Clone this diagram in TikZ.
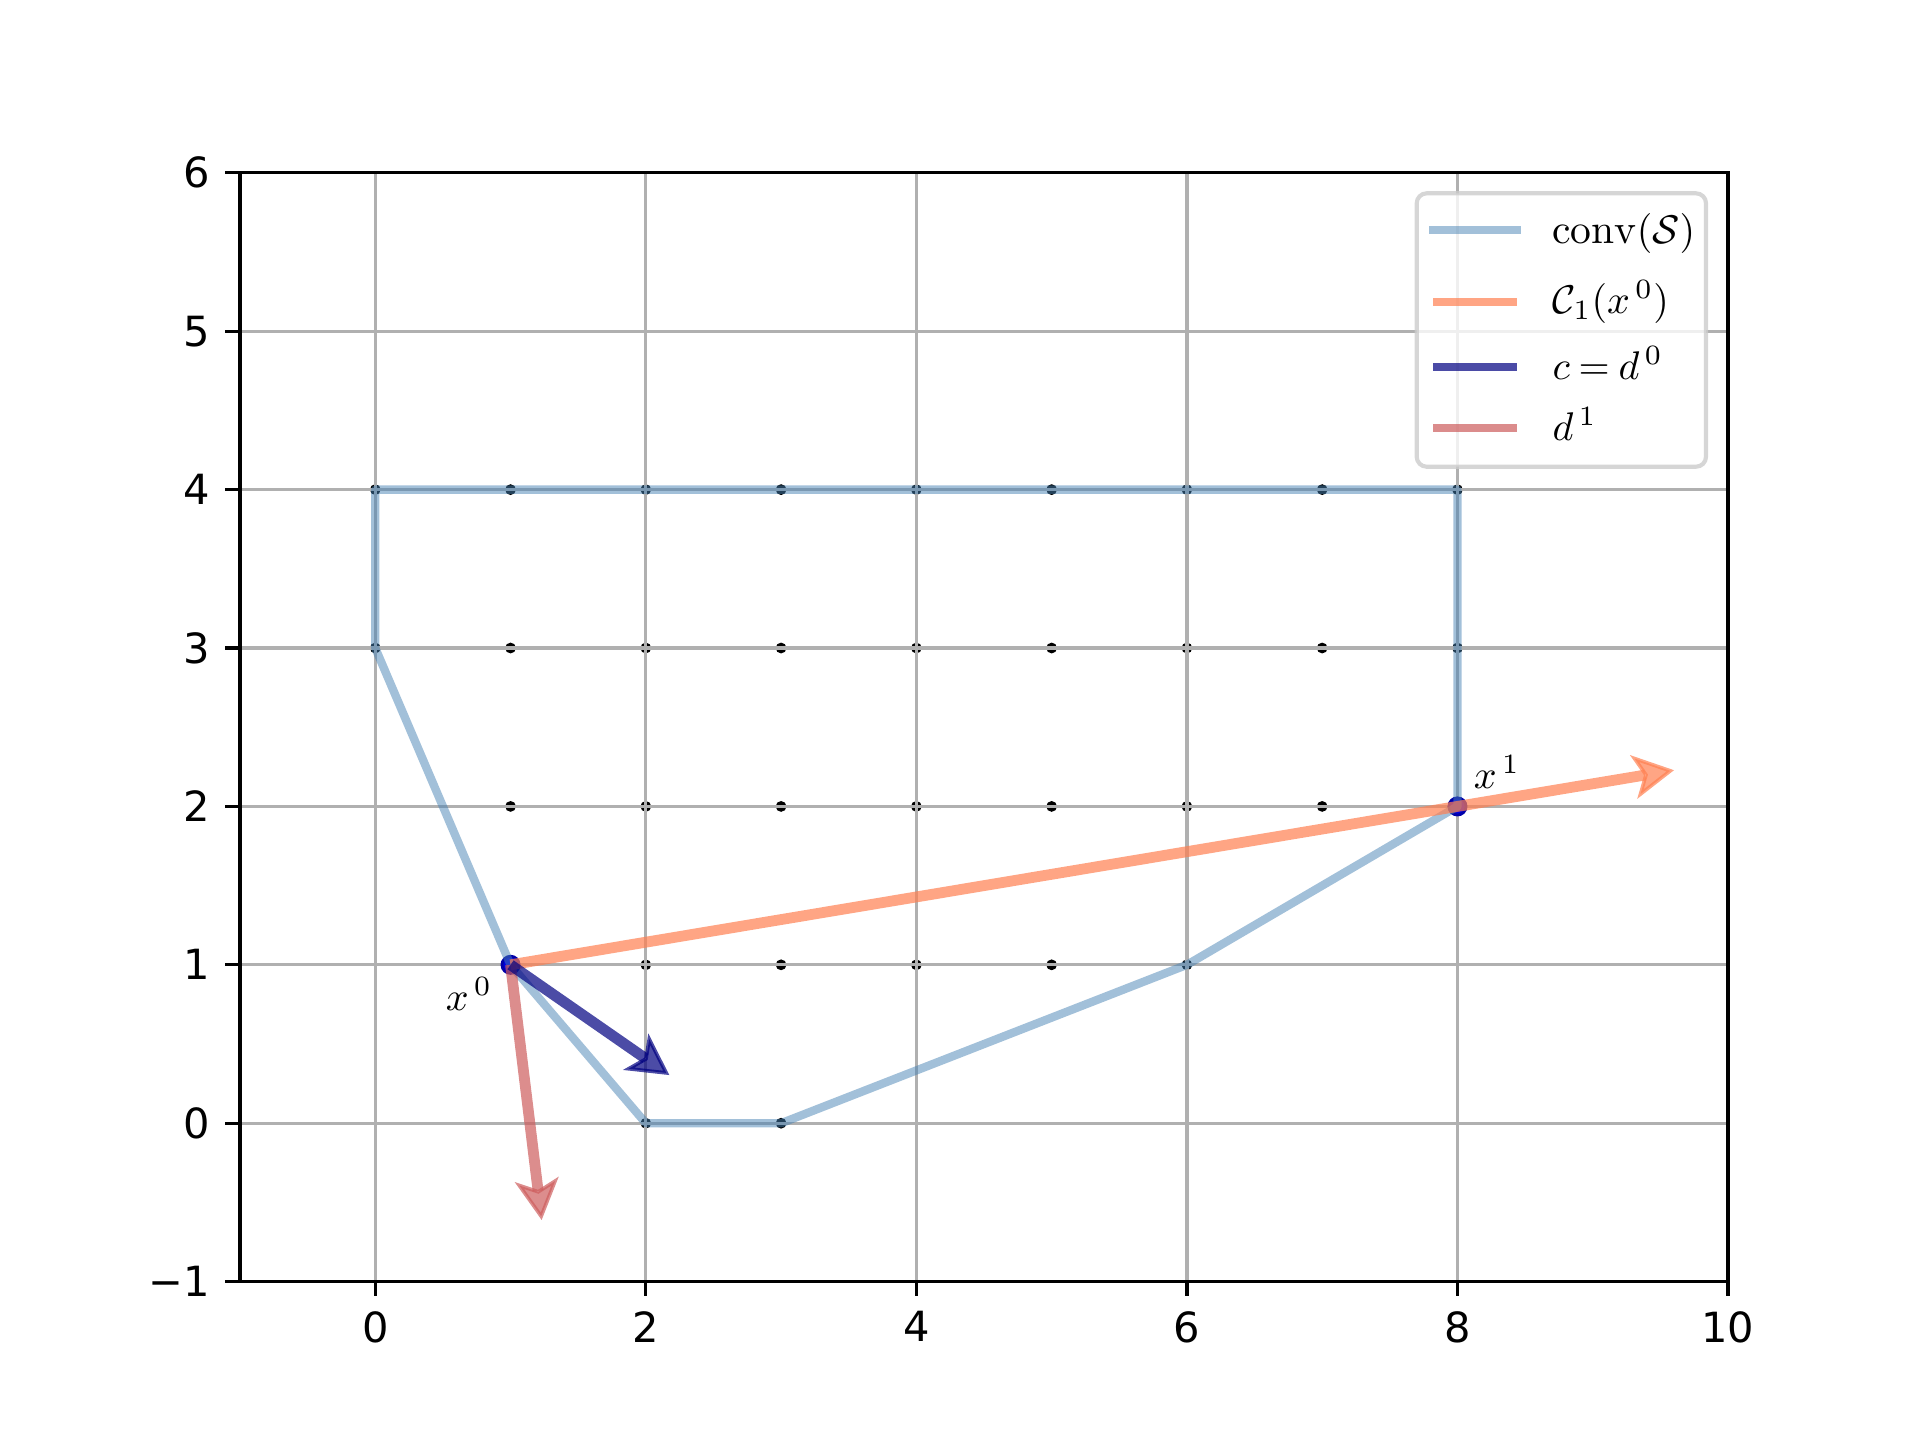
\documentclass[tikz,border=0pt]{standalone}
\usepackage{fontspec}
\newfontfamily\dejavu{DejaVu Sans}
\usetikzlibrary{arrows.meta}
\definecolor{steelblue}{RGB}{70,130,180}
\definecolor{coralc}{RGB}{255,127,80}
\definecolor{navyc}{RGB}{0,0,128}
\definecolor{indianred}{RGB}{205,92,92}
\definecolor{gridgray}{HTML}{B0B0B0}
\definecolor{legedge}{HTML}{CCCCCC}
\definecolor{mblue}{RGB}{0,0,220}
\definecolor{mring}{RGB}{0,0,170}
\begin{document}
\begin{tikzpicture}[x=0.25pt,y=-0.25pt,
  gridline/.style={draw=gridgray,line width=0.83pt},
  spine/.style={draw=black,line width=0.83pt},
  tickmark/.style={draw=black,line width=0.83pt},
  ticklabel/.style={font=\dejavu\fontsize{10.4}{12}\selectfont,inner sep=0pt},
  lattice/.style={circle,fill=black,inner sep=0pt,minimum size=2.7pt},
  iterate/.style={circle,fill=mblue,draw=mring,line width=0.7pt,inner sep=0pt,minimum size=4.3pt},
  hull/.style={draw=steelblue,draw opacity=0.5,line width=2.08pt,line join=round},
  arr/.style={line width=2.7pt,opacity=0.7,-{Stealth[length=10.2pt,width=11pt,inset=2.6pt,line width=0.9pt]}},
  mathlabel/.style={font=\fontsize{10.4}{12}\selectfont,inner sep=0pt,anchor=base west},
  legline/.style={line width=2.08pt},
]
\path[use as bounding box] (0,0) rectangle (1920,1440);

\begin{scope}[shift={(375.27,1123.2)},x=33.8182pt,y=39.6pt]
  % lattice points
  \foreach \a/\b in {0/4,1/4,2/4,3/4,4/4,5/4,6/4,7/4,8/4,
                     0/3,1/3,2/3,3/3,4/3,5/3,6/3,7/3,8/3,
                     1/2,2/2,3/2,4/2,5/2,6/2,7/2,8/2,
                     1/1,2/1,3/1,4/1,5/1,6/1,
                     2/0,3/0}
    \node[lattice] (p-\a-\b) at (\a,\b) {};
  % grid
  \foreach \gx in {0,2,4,6,8}
    \draw[gridline] (\gx,-1) -- (\gx,6);
  \foreach \gy in {0,1,2,3,4,5}
    \draw[gridline] (-1,\gy) -- (10,\gy);
  % iterates
  \node[iterate] (x0) at (1,1) {};
  \node[iterate] (x1) at (8,2) {};
  % convex hull
  \draw[hull] (p-0-3.center) -- (p-0-4.center) -- (p-8-4.center) -- (p-8-2.center)
     -- (p-6-1.center) -- (p-3-0.center) -- (p-2-0.center) -- (p-1-1.center) -- cycle;
  % arrows
  \coordinate (otip) at (9.601,2.2287);
  \coordinate (ctip) at (2.174,0.304);
  \coordinate (dtip) at (1.230,-0.611);
  \draw[arr,coralc] (x0.center) -- (x1.center) -- (otip);
  \draw[arr,indianred] (x0.center) -- (dtip);
  \draw[arr,navyc] (x0.center) -- (ctip);
  % spines
  \draw[spine] (-1,-1) rectangle (10,6);
\end{scope}

% ticks and tick labels
\foreach \k in {0,2,4,6,8,10}{
  \draw[tickmark] ({375.27+135.2727*\k},1281.6) -- ++(0,14.6);
  \node[ticklabel,anchor=north] (xt\k) at ({375.27+135.2727*\k},1310.8) {\k};
}
\foreach \k/\lab in {-1/{−1},0/0,1/1,2/2,3/3,4/4,5/5,6/6}{
  \draw[tickmark] (240,{1123.2-158.4*\k}) -- ++(-14.6,0);
  \node[ticklabel,anchor=east] (yt\k) at (210.8,{1123.2-158.4*\k}) {\lab};
}

% point labels
\node[mathlabel] (lx0) at (445,1010) {$x^{\,0}$};
\node[mathlabel] (lx1) at (1473,788) {$x^{\,1}$};

% legend
\draw[draw=legedge,fill=white,fill opacity=0.8,draw opacity=0.8,rounded corners=2.5pt,line width=1.04pt]
  (1416.7,193.3) rectangle (1706,466.7);
\draw[legline,steelblue,draw opacity=0.5,line cap=rect] (1433.3,230) -- (1516.7,230);
\draw[legline,coralc,draw opacity=0.7] (1433.3,302) -- (1516.7,302);
\draw[legline,navyc,draw opacity=0.7] (1433.3,366.7) -- (1516.7,366.7);
\draw[legline,indianred,draw opacity=0.7] (1433.3,427.7) -- (1516.7,427.7);
\node[mathlabel] (l1) at (1551.7,243.3) {$\mathrm{conv}(\mathcal{S})$};
\node[mathlabel] (l2) at (1551.7,313) {$\mathcal{C}_1(x^{\,0})$};
\node[mathlabel] (l3) at (1551.7,379.3) {$c\mskip4mu{=}\mskip4mu d^{\,0}$};
\node[mathlabel] (l4) at (1551.7,440) {$d^{\,1}$};
\end{tikzpicture}
\end{document}
